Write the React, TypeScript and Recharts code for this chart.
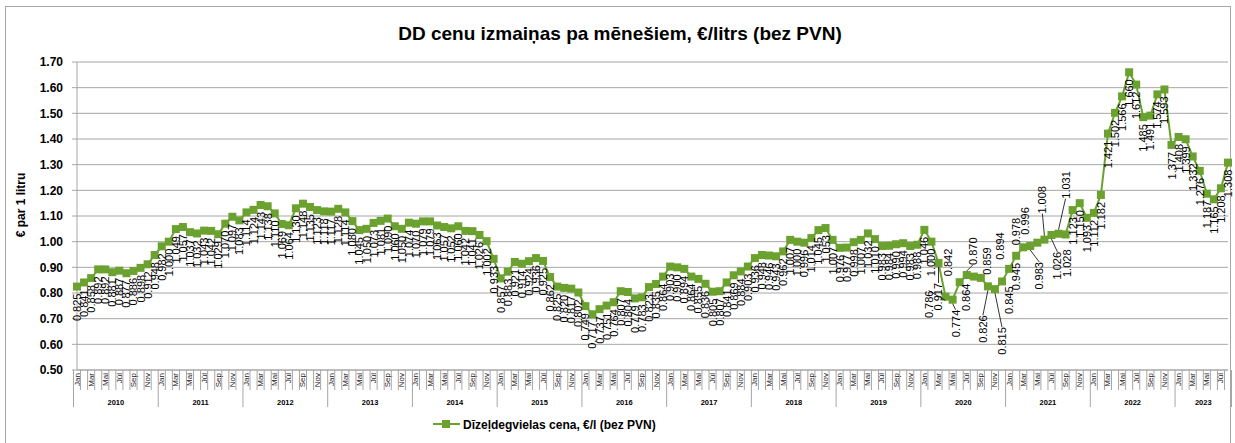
import { LineChart, Line, XAxis, YAxis, CartesianGrid, LabelList } from 'recharts';

const W = 1235;
const H = 443;
const FONT = '"Liberation Sans", Arial, sans-serif';
const GREEN = '#6BA22F';
const GRID = '#a6a6a6';

const YEARS = [2010, 2011, 2012, 2013, 2014, 2015, 2016, 2017, 2018, 2019, 2020, 2021, 2022, 2023];
const MONTHS = ['Jan', 'Feb', 'Mar', 'Apr', 'Mai', 'Jūn', 'Jūl', 'Aug', 'Sep', 'Okt', 'Nov', 'Dec'];

const P2010 = [0.825, 0.841, 0.858, 0.892, 0.892, 0.881, 0.887, 0.877, 0.886, 0.898, 0.912, 0.948];
const P2011 = [0.982, 1.0, 1.049, 1.057, 1.037, 1.032, 1.043, 1.042, 1.029, 1.07, 1.097, 1.083];
const P2012 = [1.114, 1.124, 1.143, 1.138, 1.11, 1.069, 1.064, 1.13, 1.148, 1.135, 1.123, 1.118];
const P2013 = [1.117, 1.128, 1.114, 1.08, 1.045, 1.05, 1.073, 1.081, 1.09, 1.06, 1.05, 1.074];
const P2014 = [1.07, 1.079, 1.079, 1.063, 1.057, 1.052, 1.06, 1.042, 1.041, 1.026, 1.002, 0.933];
const P2015 = [0.857, 0.883, 0.921, 0.914, 0.924, 0.936, 0.925, 0.862, 0.825, 0.82, 0.817, 0.802];
const P2016 = [0.749, 0.717, 0.737, 0.751, 0.764, 0.807, 0.804, 0.779, 0.783, 0.823, 0.835, 0.864];
const P2017 = [0.903, 0.9, 0.894, 0.864, 0.855, 0.836, 0.805, 0.807, 0.841, 0.869, 0.884, 0.903];
const P2018 = [0.936, 0.948, 0.946, 0.943, 0.962, 1.007, 1.0, 0.996, 1.014, 1.045, 1.053, 1.007];
const P2019 = [0.976, 0.977, 0.998, 1.007, 1.032, 1.01, 0.983, 0.984, 0.99, 0.994, 0.983, 0.988];
const P2020 = [1.046, 1.0, 0.917, 0.786, 0.774, 0.842, 0.87, 0.864, 0.859, 0.826, 0.815, 0.845];
const P2021 = [0.894, 0.945, 0.978, 0.983, 0.996, 1.008, 1.026, 1.031, 1.028, 1.123, 1.15, 1.093];
const P2022 = [1.112, 1.182, 1.421, 1.502, 1.566, 1.66, 1.612, 1.485, 1.491, 1.574, 1.593, 1.377];
const P2023 = [1.408, 1.399, 1.332, 1.276, 1.187, 1.165, 1.208, 1.308];

const SERIES = [P2010, P2011, P2012, P2013, P2014, P2015, P2016, P2017, P2018, P2019, P2020, P2021, P2022, P2023];
const Y_TICKS = [0.5, 0.6, 0.7, 0.8, 0.9, 1.0, 1.1, 1.2, 1.3, 1.4, 1.5, 1.6, 1.7];

const data = YEARS.flatMap((year, yi) =>
  SERIES[yi].map((price, month) => ({
    key: `${year}-${month}`,
    year,
    month,
    count: SERIES[yi].length,
    price,
  }))
);
const byKey: Record<string, (typeof data)[number]> = {};
data.forEach((d) => (byKey[d.key] = d));

// plot box
const PLOT_LEFT = 77;
const PLOT_RIGHT = 1228;
const PLOT_TOP = 62;
const AXIS_Y = 370;
const STEP = (PLOT_RIGHT - PLOT_LEFT) / data.length;

// hand-moved labels around 2020-2021 (offsets from the point)
type Nudge = { pos: 'above' | 'below'; dx: number; dy: number; leader?: boolean };
const NUDGE: Record<number, Nudge> = {
  122: { pos: 'below', dx: 0, dy: 20, leader: true },
  123: { pos: 'below', dx: -17, dy: -6, leader: true },
  124: { pos: 'below', dx: 3, dy: 10, leader: true },
  125: { pos: 'above', dx: -12, dy: -6 },
  126: { pos: 'above', dx: 6, dy: -10, leader: true },
  127: { pos: 'below', dx: -8, dy: 7 },
  128: { pos: 'above', dx: 6, dy: -3 },
  129: { pos: 'below', dx: -5, dy: 29, leader: true },
  130: { pos: 'below', dx: 7, dy: 38, leader: true },
  131: { pos: 'below', dx: 7, dy: 5 },
  132: { pos: 'above', dx: -9, dy: -9 },
  134: { pos: 'above', dx: -7, dy: -2 },
  135: { pos: 'below', dx: 9, dy: 16, leader: true },
  136: { pos: 'above', dx: -12, dy: -8 },
  137: { pos: 'above', dx: -2, dy: -26, leader: true },
  138: { pos: 'below', dx: 6, dy: 17, leader: true },
  139: { pos: 'above', dx: 7, dy: -35, leader: true },
  140: { pos: 'below', dx: 1, dy: 15 },
};

function PriceLabel(props: any) {
  const vb = props.viewBox || {};
  const x = props.x ?? vb.x;
  const y = props.y ?? vb.y;
  const { value, index } = props;
  if (x == null || y == null || value == null) return null;
  const n = NUDGE[index] ?? { pos: 'below', dx: 0, dy: 7 };
  const lx = x + n.dx;
  const ly = y + n.dy;
  return (
    <g>
      {n.leader && (
        <line x1={x} y1={y + (n.pos === 'below' ? 4 : -4)} x2={lx} y2={ly} stroke="#000" strokeWidth={0.8} />
      )}
      <text
        transform={`translate(${lx},${ly}) rotate(-90)`}
        textAnchor={n.pos === 'below' ? 'end' : 'start'}
        dominantBaseline="central"
        fontSize={11}
        fontFamily={FONT}
        fill="#000"
      >
        {Number(value).toFixed(3)}
      </text>
    </g>
  );
}

function SquareDot(props: any) {
  const { cx, cy, index } = props;
  if (cx == null || cy == null) return <g key={index} />;
  return <rect key={index} x={cx - 4} y={cy - 4} width={8} height={8} fill={GREEN} />;
}

function MonthTick(props: any) {
  const { x, y, payload } = props;
  const d = byKey[payload?.value];
  if (!d) return null;
  const left = x - STEP / 2;
  const isLast = d.key === data[data.length - 1].key;
  const mid = Math.floor(d.count / 2);
  return (
    <g>
      <line x1={left} x2={left} y1={y} y2={d.month === 0 ? y + 37 : y + 20} stroke={GRID} />
      {isLast && <line x1={x + STEP / 2} x2={x + STEP / 2} y1={y} y2={y + 37} stroke={GRID} />}
      {d.month % 2 === 0 && (
        <text
          transform={`translate(${x},${y + 3}) rotate(-90)`}
          textAnchor="end"
          dominantBaseline="central"
          fontSize={8}
          fontFamily={FONT}
          fill="#222"
        >
          {MONTHS[d.month]}
        </text>
      )}
      {d.month === mid && (
        <text
          x={d.count % 2 === 0 ? x - STEP / 2 : x}
          y={y + 35}
          textAnchor="middle"
          fontSize={7.5}
          fontWeight={700}
          fontFamily={FONT}
          fill="#000"
        >
          {d.year}
        </text>
      )}
    </g>
  );
}

export default function App() {
  return (
    <div style={{ position: 'absolute', left: 0, top: 0, width: W, height: H, background: '#fff', overflow: 'hidden' }}>
      <div
        style={{
          position: 'absolute',
          left: 5,
          top: 6,
          width: 1226,
          height: 450,
          border: `1px solid ${GRID}`,
          boxSizing: 'border-box',
        }}
      />
      <LineChart
        width={W}
        height={H}
        data={data}
        margin={{ top: PLOT_TOP, right: W - PLOT_RIGHT, bottom: H - AXIS_Y - 40, left: 0 }}
        style={{ position: 'absolute', left: 0, top: 0 }}
      >
        <CartesianGrid horizontal vertical={false} stroke={GRID} strokeDasharray="" />
        <XAxis
          dataKey="key"
          type="category"
          interval={0}
          height={40}
          tickSize={0}
          tickMargin={0}
          tickLine={false}
          axisLine={{ stroke: GRID }}
          tick={<MonthTick />}
        />
        <YAxis
          width={PLOT_LEFT}
          domain={[0.5, 1.7]}
          ticks={Y_TICKS}
          interval={0}
          tickSize={5}
          tickMargin={9}
          tickFormatter={(v: number) => v.toFixed(2)}
          tick={{ fontSize: 12, fontWeight: 700, fill: '#000', fontFamily: FONT }}
          axisLine={{ stroke: GRID }}
          tickLine={{ stroke: GRID }}
        />
        <Line
          dataKey="price"
          stroke={GREEN}
          strokeWidth={2}
          dot={<SquareDot />}
          activeDot={false}
          isAnimationActive={false}
        >
          <LabelList dataKey="price" content={<PriceLabel />} />
        </Line>
      </LineChart>
      <svg width={W} height={H} style={{ position: 'absolute', left: 0, top: 0, pointerEvents: 'none' }}>
        <text x={620} y={40} textAnchor="middle" fontSize={19} fontWeight={700} fontFamily={FONT} fill="#000">
          DD cenu izmaiņas pa mēnešiem, €/litrs (bez PVN)
        </text>
        <text
          transform="translate(25,205) rotate(-90)"
          textAnchor="middle"
          fontSize={12}
          fontWeight={700}
          fontFamily={FONT}
          fill="#000"
        >
          € par 1 litru
        </text>
        <line x1={433} x2={460} y1={424} y2={424} stroke={GREEN} strokeWidth={2} />
        <rect x={442} y={420} width={8} height={8} fill={GREEN} />
        <text x={463} y={428.5} fontSize={12} fontWeight={700} fontFamily={FONT} fill="#000">
          Dīzeļdegvielas cena, €/l (bez PVN)
        </text>
      </svg>
    </div>
  );
}
